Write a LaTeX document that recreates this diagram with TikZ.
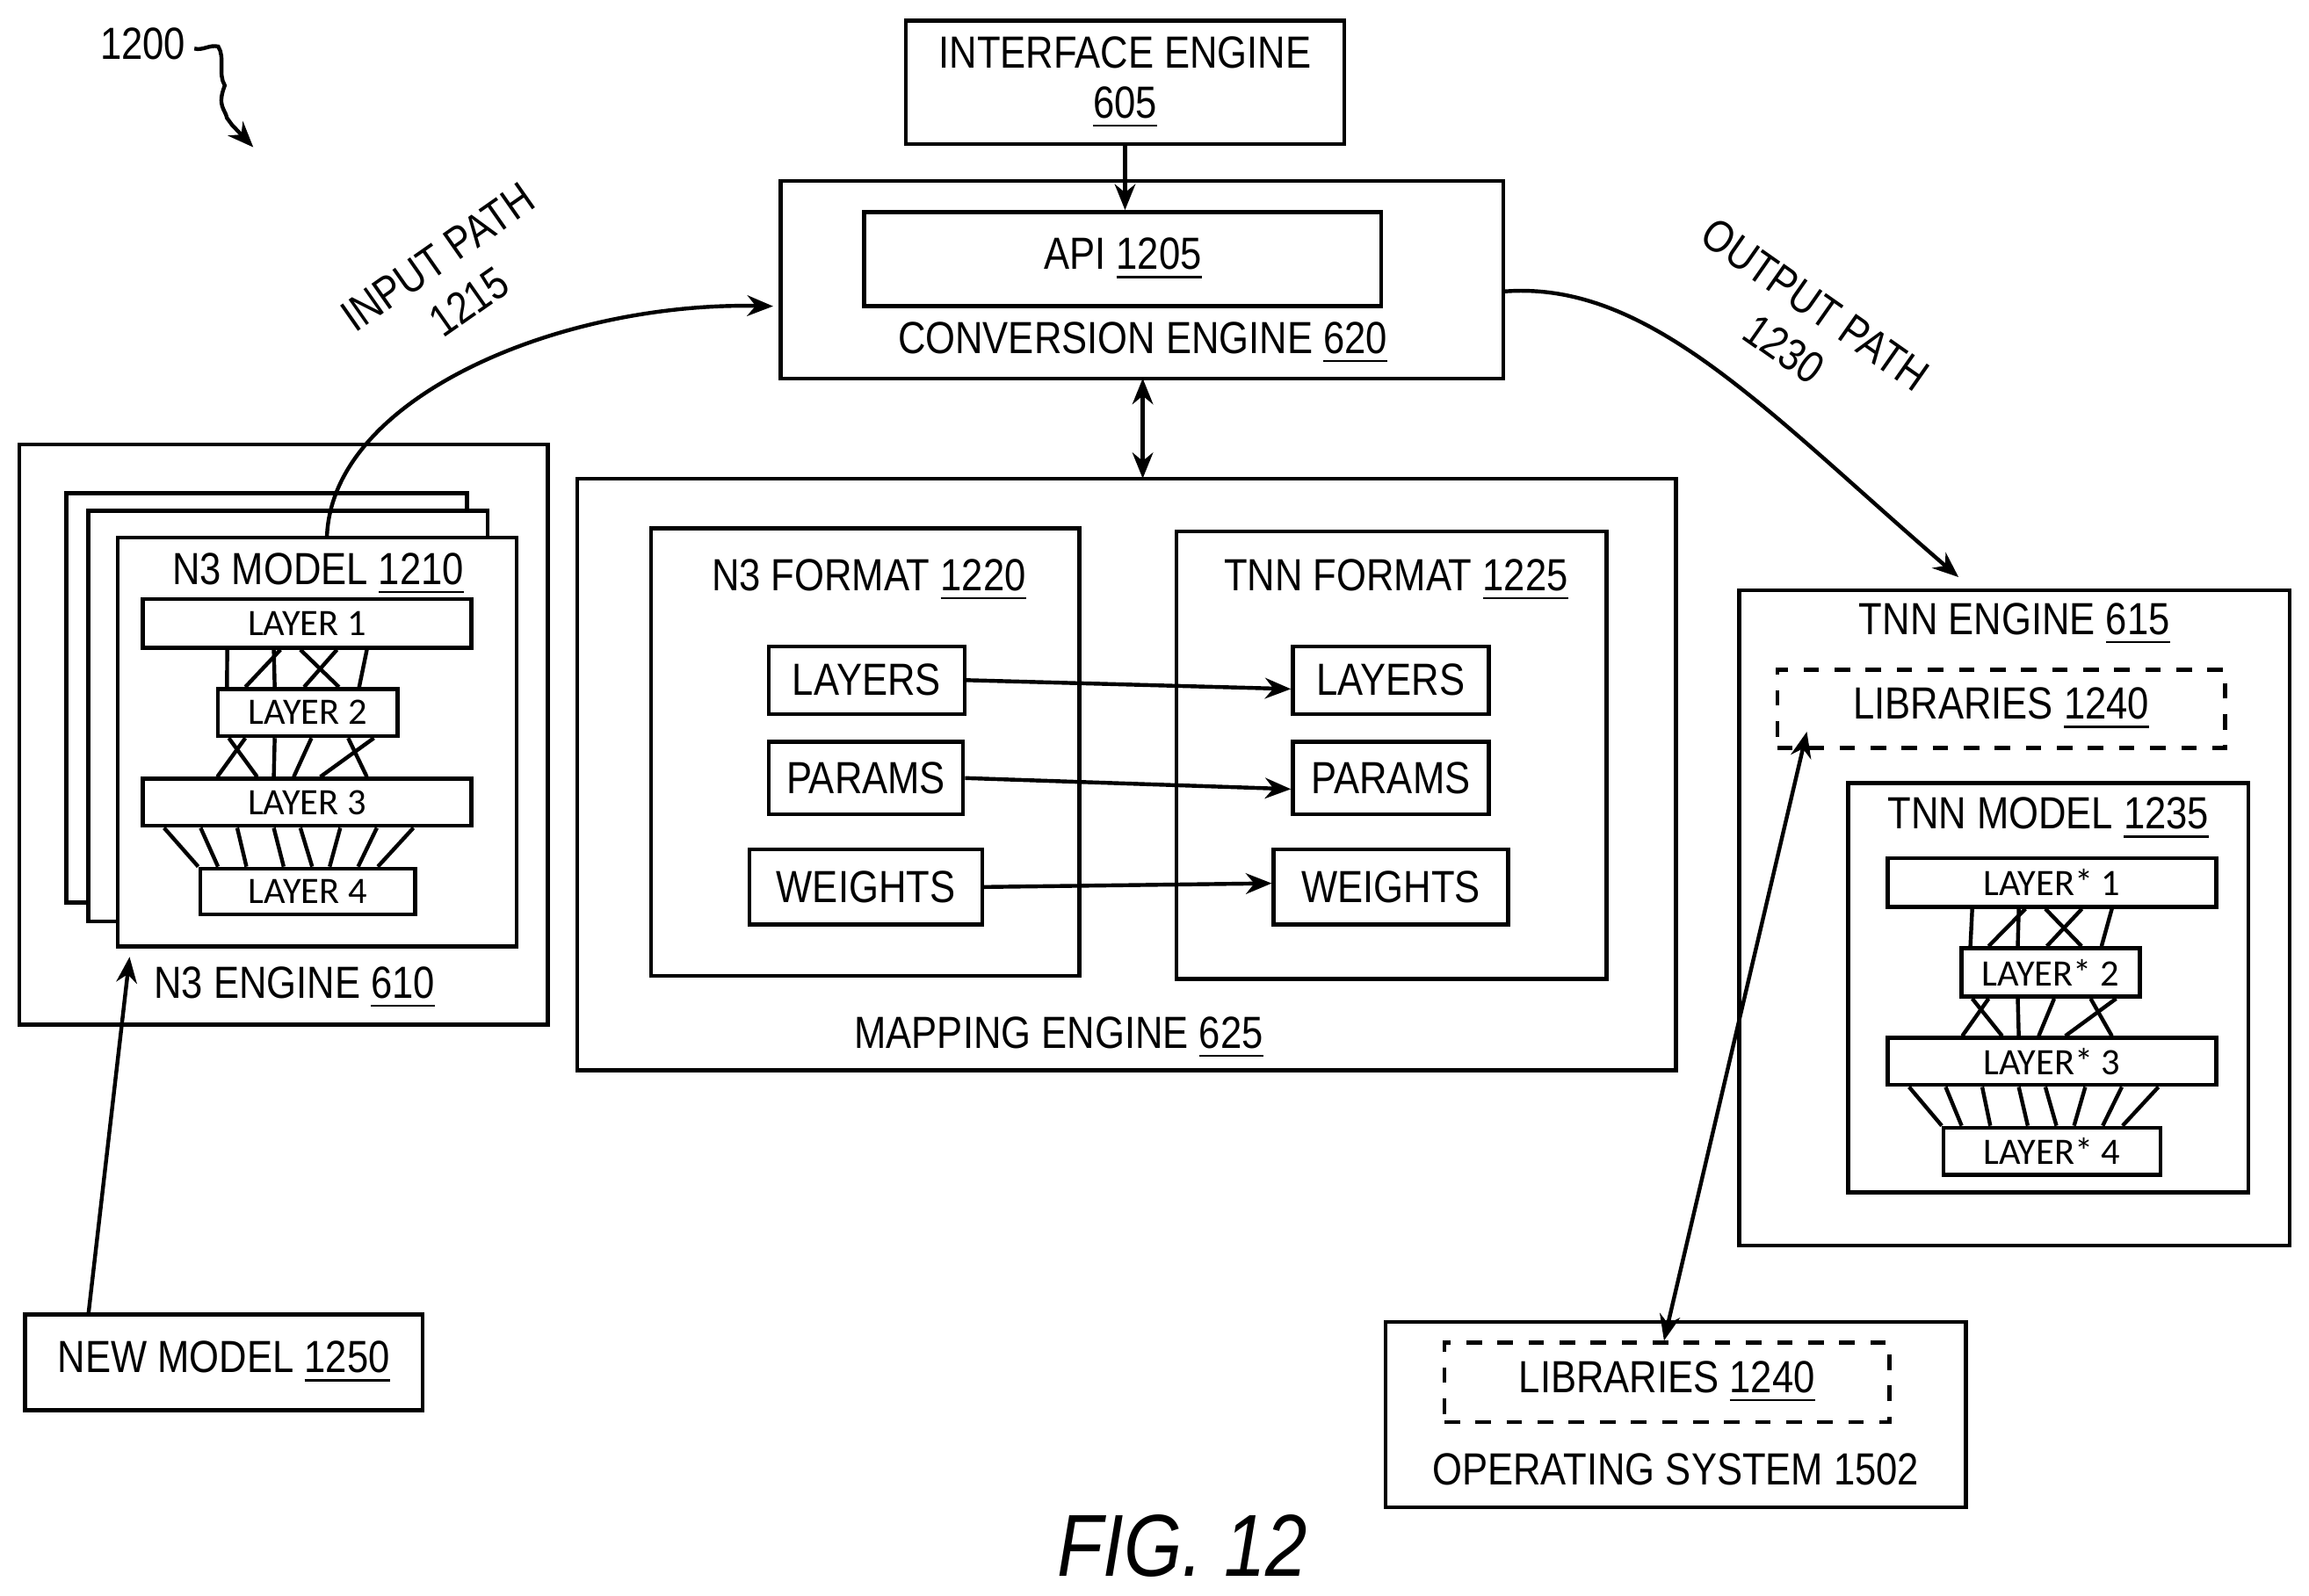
\documentclass[tikz,border=0pt]{standalone}
\usepackage{fontspec}
\setmainfont{Liberation Sans}[FakeStretch=0.85]
\newfontfamily\layerfont{Carlito}
\usetikzlibrary{calc,arrows.meta,decorations.pathmorphing}
\newcommand{\un}[1]{\underline{#1}}
% links between the four layers of a model
\newcommand{\netlinks}[1]{%
  \foreach \a/\b in {.26/.06,.42/.16,.40/.32,.48/.67,.59/.48,.68/.78}
    \draw[link] ($(#1a.south west)!\a!(#1a.south east)$) -- ($(#1b.north west)!\b!(#1b.north east)$);
  \foreach \a/\b in {.07/.35,.16/.23,.32/.40,.52/.46,.72/.68,.86/.54}
    \draw[link] ($(#1b.south west)!\a!(#1b.south east)$) -- ($(#1c.north west)!\b!(#1c.north east)$);
  \foreach \a/\b in {.07/.0,.18/.09,.29/.22,.40/.39,.48/.52,.60/.60,.71/.73,.82/.82}
    \draw[link] ($(#1c.south west)!\a!(#1c.south east)$) -- ($(#1d.north west)!\b!(#1d.north east)$);
}
\begin{document}
\begin{tikzpicture}[x=0.01cm,y=-0.01cm,line width=0.75pt,
  txt/.style={font=\fontsize{8.7}{10.5}\selectfont,inner sep=0pt,align=center},
  box/.style={draw,fill=white},
  lay/.style={draw,fill=white,font=\layerfont\fontsize{7.2}{8}\selectfont,inner sep=0pt},
  link/.style={line width=0.75pt},
  arr/.style={-{Stealth[length=5pt,width=4pt]}},
  dbl/.style={{Stealth[length=5pt,width=4pt]}-{Stealth[length=5pt,width=4pt]}}]
\useasboundingbox (0,0) rectangle (1568,1084);
% figure number
\node[txt] (ref) at (97,30) {1200};
\coordinate (refend) at (172,100);
\draw[arr,decorate,decoration={snake,amplitude=1.5pt,segment length=14pt,post length=6pt}] (132,33) .. controls (160,40) and (140,80) .. (refend);
% interface and conversion
\draw[box] (615,14) rectangle (913,98);
\node[txt,font=\fontsize{8.7}{8.7}\selectfont] (iface) at (764,56) {INTERFACE ENGINE\\[1pt]\un{605}};
\draw[box] (530,123) rectangle (1021,257);
\node[draw,txt,minimum width=3.51cm,minimum height=0.64cm] (api) at (762.5,176) {API \un{1205}};
\node[txt] (conv) at (776,233) {CONVERSION ENGINE \un{620}};
\coordinate (ifb) at (764,98);
\draw[arr] (ifb) -- (api.north -| ifb);
\coordinate (cvb) at (776,257); \coordinate (mpt) at (776,325);
\draw[dbl] (cvb) -- (mpt);
% mapping engine
\draw (392,325) rectangle (1138,727);
\node[txt] (map) at (719,705) {MAPPING ENGINE \un{625}};
\draw (442,359) rectangle (733,663);
\node[txt] at (590,394) {N3 FORMAT \un{1220}};
\draw (799,361) rectangle (1091,665);
\node[txt] at (948,394) {TNN FORMAT \un{1225}};
\node[draw,txt,minimum width=1.33cm,minimum height=0.46cm] (nl) at (588.5,462) {LAYERS};
\node[draw,txt,minimum width=1.32cm,minimum height=0.49cm] (np) at (588,528.5) {PARAMS};
\node[draw,txt,minimum width=1.58cm,minimum height=0.51cm] (nw) at (588,602.5) {WEIGHTS};
\node[draw,txt,minimum width=1.33cm,minimum height=0.46cm] (tl) at (944.5,462) {LAYERS};
\node[draw,txt,minimum width=1.33cm,minimum height=0.49cm] (tp) at (944.5,528.5) {PARAMS};
\node[draw,txt,minimum width=1.59cm,minimum height=0.51cm] (tw) at (944.5,602.5) {WEIGHTS};
\draw[arr] (nl.east) -- (tl.west |- 0,468);
\draw[arr] (np.east) -- (tp.west |- 0,536);
\draw[arr] (nw.east) -- (tw.west |- 0,600);
% n3 engine
\draw (13,302) rectangle (372,696);
\node[txt] (n3e) at (200,671) {N3 ENGINE \un{610}};
\draw[box] (45,335) rectangle (317,613);
\draw[box] (60,347) rectangle (331,626);
\draw[box] (80,365) rectangle (351,643);
\node[txt] (n3m) at (216,390) {N3 MODEL \un{1210}};
\node[lay,minimum width=2.23cm,minimum height=0.33cm] (na) at (208.5,423.5) {LAYER 1};
\node[lay,minimum width=1.22cm,minimum height=0.32cm] (nb) at (209,484) {LAYER 2};
\node[lay,minimum width=2.23cm,minimum height=0.32cm] (nc) at (208.5,545) {LAYER 3};
\node[lay,minimum width=1.46cm,minimum height=0.31cm] (nd) at (209,605.5) {LAYER 4};
\netlinks{n}
\coordinate (inA) at (222,365); \coordinate (inB) at (525,208);
\draw[arr] (inA) .. controls (225,270) and (380,205) .. (inB);
\node[txt,rotate=35] at (308,190) {INPUT PATH\\1215};
% new model
\node[draw,txt,minimum width=2.7cm,minimum height=0.65cm] (new) at (152,925.5) {NEW MODEL \un{1250}};
\coordinate (n3in) at (88,650);
\draw[arr] (60,893) -- (n3in);
% tnn engine
\draw (1181,401) rectangle (1555,846);
\node[txt] (tnne) at (1368,424) {TNN ENGINE \un{615}};
\node[draw,dashed,txt,minimum width=3.04cm,minimum height=0.53cm] (lib1) at (1359,481.5) {LIBRARIES \un{1240}};
\draw (1255,532) rectangle (1527,810);
\node[txt] (tnnm) at (1391,556) {TNN MODEL \un{1235}};
\node[lay,minimum width=2.23cm,minimum height=0.33cm] (ta) at (1393.5,599.5) {LAYER* 1};
\node[lay,minimum width=1.21cm,minimum height=0.33cm] (tb) at (1392.5,660.5) {LAYER* 2};
\node[lay,minimum width=2.23cm,minimum height=0.32cm] (tc) at (1393.5,721) {LAYER* 3};
\node[lay,minimum width=1.47cm,minimum height=0.32cm] (td) at (1393.5,782) {LAYER* 4};
\netlinks{t}
\coordinate (outA) at (1021,198); \coordinate (outB) at (1330,392);
\draw[arr] (outA) .. controls (1120,190) and (1200,280) .. (outB);
\node[txt,rotate=-35] at (1222,222) {OUTPUT PATH\\1230};
% operating system
\draw (941,898) rectangle (1335,1024);
\node[draw,dashed,txt,minimum width=3.02cm,minimum height=0.54cm] (lib2) at (1132,939) {LIBRARIES \un{1240}};
\node[txt] (os) at (1138,998) {OPERATING SYSTEM 1502};
\coordinate (libA) at (1227,497);
\draw[dbl] (libA) -- (lib2.north -| 1130,0);
\node[txt,font=\itshape\fontsize{17}{20}\selectfont] (fig) at (803,1050) {FIG. 12};
\end{tikzpicture}
\end{document}
